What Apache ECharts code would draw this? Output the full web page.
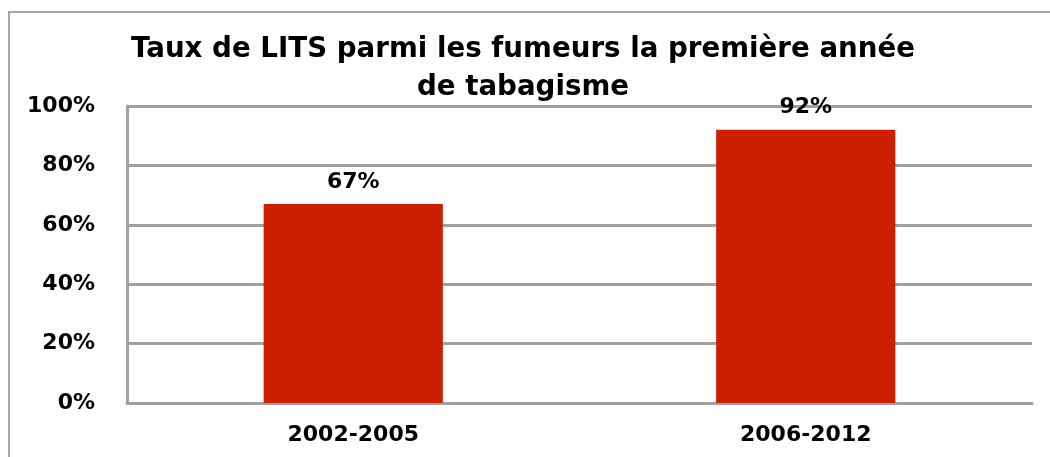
<!DOCTYPE html>
<html>
<head>
<meta charset="utf-8">
<script src="https://cdn.jsdelivr.net/npm/echarts@6/dist/echarts.min.js"></script>
<style>
html, body { margin: 0; padding: 0; background: #fff; }
#chart { width: 1050px; height: 457px; }
</style>
</head>
<body>
<div id="chart"></div>
<script>
// données
var periodes = ["2002-2005", "2006-2012"];
var tauxLits = [67, 92];
var yTicks = [0, 20, 40, 60, 80, 100];

var chart = echarts.init(document.getElementById("chart"));
chart.setOption({
	backgroundColor: "#fff",
	animation: false,
	title: {
		text: "Taux de LITS parmi les fumeurs la première année\nde tabagisme",
		left: 518,
		textAlign: "center",
		top: 26,
		textStyle: {
			fontFamily: "DejaVu Sans",
			fontWeight: "bold",
			fontSize: 27.7,
			lineHeight: 38,
			color: "#000"
		}
	},
	graphic: [
		{
			type: "rect",
			shape: { x: 9, y: 12, width: 1060, height: 470 },
			style: { fill: "none", stroke: "#a6a6a6", lineWidth: 2 },
			silent: true
		}
	],
	grid: {
		left: 127,
		right: 18,
		top: 106,
		bottom: 54
	},
	xAxis: {
		type: "category",
		data: periodes,
		axisTick: { show: false },
		axisLine: { lineStyle: { color: "#a0a0a0", width: 3 } },
		axisLabel: {
			margin: 21,
			fontFamily: "DejaVu Sans",
			fontWeight: "bold",
			fontSize: 22,
			color: "#000"
		}
	},
	yAxis: {
		type: "value",
		min: yTicks[0],
		max: yTicks[yTicks.length - 1],
		interval: 20,
		axisLine: { show: true, lineStyle: { color: "#a0a0a0", width: 3 } },
		axisTick: { show: false },
		splitLine: { lineStyle: { color: "#a0a0a0", width: 3 } },
		axisLabel: {
			margin: 32,
			fontFamily: "DejaVu Sans",
			fontWeight: "bold",
			fontSize: 22,
			color: "#000",
			formatter: "{value}%"
		}
	},
	series: [
		{
			type: "bar",
			data: tauxLits,
			barWidth: "39.6%",
			itemStyle: { color: "#cc1f00" },
			label: {
				show: true,
				position: "top",
				distance: 11,
				formatter: "{c}%",
				fontFamily: "DejaVu Sans",
				fontWeight: "bold",
				fontSize: 22,
				color: "#000"
			}
		}
	]
});
</script>
</body>
</html>
